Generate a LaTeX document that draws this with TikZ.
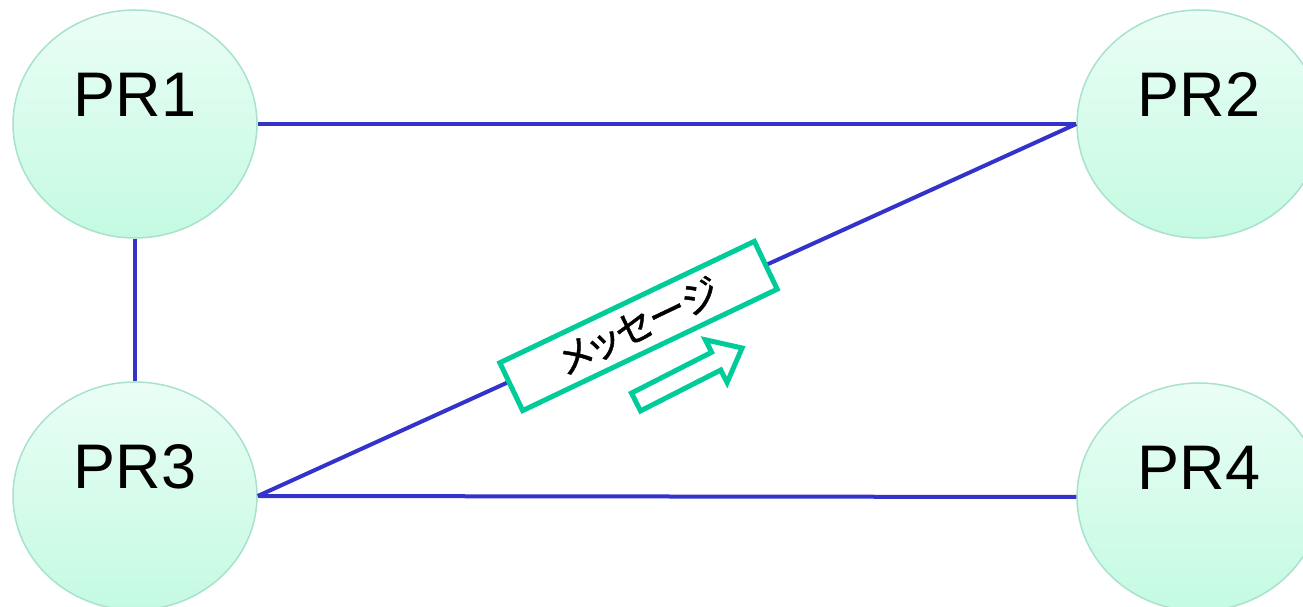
\documentclass[tikz,border=0pt]{standalone}
\usepackage{fontspec}
\setmainfont{Liberation Sans}
\newfontfamily\jpfont[RawFeature=+palt, FakeBold=1.2]{Noto Sans CJK JP}
\usetikzlibrary{shapes.geometric}
\definecolor{linkblue}{RGB}{51,51,204}
\definecolor{msggreen}{RGB}{0,204,153}
\definecolor{nodeedge}{RGB}{168,226,204}
\definecolor{nodetop}{RGB}{234,254,245}
\definecolor{nodebot}{RGB}{196,250,226}
\begin{document}
\begin{tikzpicture}[x=1pt,y=1pt,
 prnode/.style={ellipse, draw=nodeedge, line width=1.5pt, top color=nodetop, bottom color=nodebot,
   minimum width=244pt, minimum height=228pt, inner sep=0pt,
   font=\fontsize{63}{63}\selectfont, text height=45pt, text depth=60pt},
 link/.style={draw=linkblue, line width=4pt},
 msgbox/.style={draw=msggreen, line width=5pt, fill=white, minimum width=282pt, minimum height=53pt,
   inner sep=0pt, font=\jpfont\fontsize{38}{38}\selectfont},
 msgarrow/.style={draw=msggreen, line width=5pt, fill=white, line join=miter}
]
\useasboundingbox (0,0) rectangle (1303,607);
\node[prnode] (pr1) at (135,483) {PR1};
\node[prnode] (pr2) at (1199,483) {PR2};
\node[prnode] (pr3) at (135,111) {PR3};
\node[prnode] (pr4) at (1199,110) {PR4};
\draw[link] (pr1.east) -- (pr2.west);
\draw[link] (pr1.south) -- (pr3.north);
\draw[link] (pr3.east) -- (pr4.west);
\draw[link] (pr3.east) -- (pr2.west);
\node[msgbox, rotate=25.5] (msg) at (638.5,281) {メッセージ};
\coordinate (arrowtail) at (636,205);
\begin{scope}[shift={(arrowtail)}, rotate=27]
  \draw[msgarrow] (0,10) -- (90,10) -- (90,24) -- (119,0) -- (90,-24) -- (90,-10) -- (0,-10) -- cycle;
\end{scope}
\end{tikzpicture}
\end{document}
